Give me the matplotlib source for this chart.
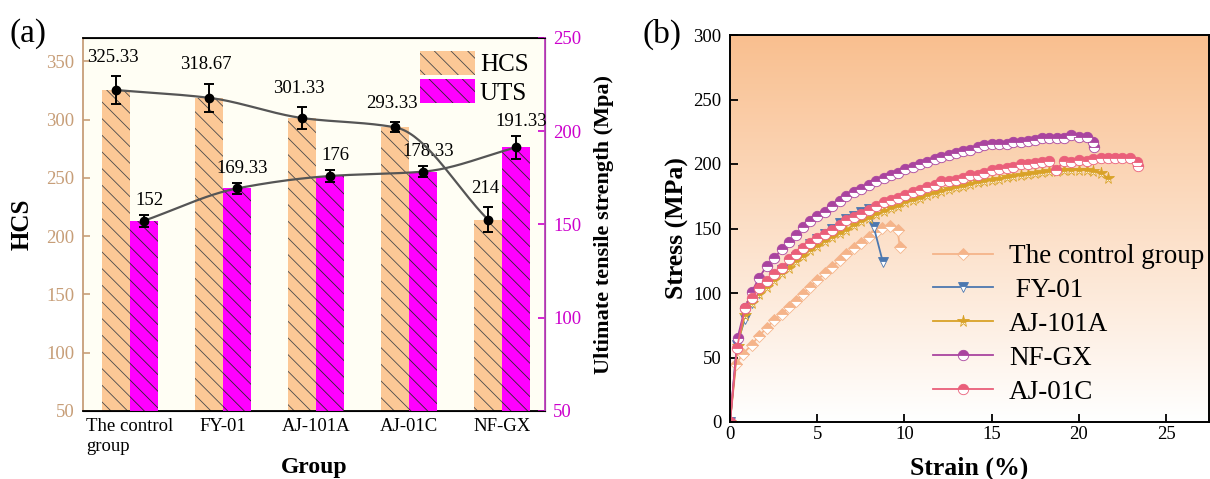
import numpy as np
import matplotlib
matplotlib.use('Agg')
import matplotlib.pyplot as plt
from matplotlib.colors import LinearSegmentedColormap

plt.rcParams['font.family'] = ['Liberation Serif', 'DejaVu Serif']
plt.rcParams['hatch.linewidth'] = 0.6

# ---- (a) HCS and UTS by group ----
groups = ['The control\ngroup', 'FY-01', 'AJ-101A', 'AJ-01C', 'NF-GX']
hcs = [325.33, 318.67, 301.33, 293.33, 214]
hcs_err = [11.8, 12.1, 9.3, 4.3, 10.7]
uts = [152, 169.33, 176, 178.33, 191.33]
uts_err = [3.1, 2.9, 3.1, 3.0, 6.2]

# ---- (b) stress-strain curves ----
ctrl_strain = [0, 0.35, 0.75, 1.25, 1.68, 2.1, 2.54, 2.97, 3.38, 3.78, 4.19, 4.6, 5.0, 5.44,
               5.85, 6.28, 6.67, 7.1, 7.53, 7.96, 8.39, 8.7, 9.16, 9.6, 9.73]
ctrl_stress = [0, 45, 53, 60, 67, 73, 79, 84, 89, 94, 99.5, 105, 110, 115.5,
               120.5, 125.5, 130, 134.5, 139, 143.5, 147, 150.5, 152, 149, 136]

fy_strain = [0, 0.4, 0.86, 1.25, 1.68, 2.1, 2.54, 2.97, 3.38, 3.78, 4.19, 4.6, 5.0, 5.44,
             5.85, 6.28, 6.67, 7.1, 7.53, 7.96, 8.24, 8.76]
fy_stress = [0, 60, 80, 92, 100, 107, 113, 118, 123, 128, 133, 138, 142, 146,
             150, 154, 157, 160, 163, 165, 151, 124]

aj101_strain = [0, 0.43, 0.86, 1.25, 1.68, 2.1, 2.54, 2.97, 3.38, 3.78, 4.19, 4.6, 5.0, 5.44,
                5.85, 6.28, 6.67, 7.1, 7.53, 7.96, 8.39, 8.82, 9.2, 9.63, 10.04, 10.47, 10.88,
                11.29, 11.72, 12.1, 12.54, 12.95, 13.33, 13.76, 14.19, 14.58, 15.0, 15.42,
                15.85, 16.24, 16.67, 17.1, 17.48, 17.9, 18.3, 18.75, 19.14, 19.57, 20.0,
                20.43, 20.82, 21.25, 21.66]
aj101_stress = [0, 59, 83, 92, 99, 105, 110, 115.5, 119.4, 124.6, 128.5, 133.6, 136.2, 140,
                143.4, 146.5, 149, 153, 155.5, 158, 161.2, 163.3, 165.8, 167.7, 170.2, 172.3, 174,
                176.2, 177.5, 179.3, 180.5, 181.8, 183, 184.4, 185.7, 186.5, 187.8, 188.5,
                189.8, 190.4, 191.6, 192.4, 193, 193.7, 194.2, 194.7, 195, 195.5, 195.5,
                195.5, 194.7, 193, 189]

nfgx_strain = [0, 0.43, 0.86, 1.25, 1.68, 2.1, 2.54, 2.97, 3.38, 3.78, 4.19, 4.6, 5.0, 5.44,
               5.85, 6.28, 6.67, 7.1, 7.53, 7.96, 8.39, 8.82, 9.2, 9.63, 10.04, 10.47, 10.88,
               11.29, 11.72, 12.1, 12.54, 12.95, 13.33, 13.76, 14.19, 14.58, 15.0, 15.42,
               15.85, 16.24, 16.67, 17.1, 17.48, 17.9, 18.3, 18.75, 19.14, 19.57, 20.0,
               20.43, 20.82, 20.85]
nfgx_stress = [0, 65, 88.5, 101, 112, 121, 127, 134, 139.5, 145, 151, 155.5, 159.4, 163,
               167.7, 171, 175, 178, 180.5, 184, 186.5, 189, 191.6, 193.4, 196, 198, 200,
               201.4, 203.8, 205.8, 206.9, 208.4, 209.7, 211, 213, 214.9, 215.4, 215.6,
               215.4, 217.4, 217.4, 217.7, 218.7, 220, 219.8, 219.8, 219.8, 222.6, 221.3,
               220.8, 217, 213.5]

aj01c_strain = [0, 0.4, 0.86, 1.25, 1.68, 2.1, 2.54, 2.97, 3.38, 3.78, 4.19, 4.6, 5.0, 5.44,
                5.85, 6.28, 6.67, 7.1, 7.53, 7.96, 8.39, 8.82, 9.2, 9.63, 10.04, 10.47, 10.88,
                11.29, 11.72, 12.1, 12.54, 12.95, 13.33, 13.76, 14.19, 14.58, 15.0, 15.42,
                15.85, 16.24, 16.67, 17.1, 17.48, 17.9, 18.3, 18.7, 19.14, 19.57, 20.0,
                20.43, 20.82, 21.25, 21.66, 22.04, 22.47, 22.9, 23.33, 23.4]
aj01c_stress = [0, 57, 88.5, 96, 104, 109.6, 115, 119.4, 126, 130.5, 135, 138.8, 142.6, 145.7,
                149, 153, 156.3, 158.6, 161.2, 164, 167.1, 170.2, 172.3, 173.6, 176.2, 178, 180,
                182, 184, 186.5, 186.5, 187.8, 189, 191.6, 191.6, 193.4, 195, 196,
                196.8, 198, 200, 200, 200.7, 201.4, 202.7, 195.5, 202, 201.4, 203.2,
                202.7, 203.8, 205, 205, 205, 205, 204.5, 201.4, 198.6]

curve_names = ['The control group', ' FY-01', 'AJ-101A', 'NF-GX', 'AJ-01C']
curve_colors = ['#F5B48A', '#4C78B0', '#D9A227', '#A9449F', '#EA5F7A']
curve_markers = ['D', 'v', '*', 'o', 'o']
curve_msize = [6.5, 7.5, 8.5, 7.5, 7.5]


def smooth_line(xs, ys, n=40):
    # monotone cubic (PCHIP) line through the group means
    xs = np.asarray(xs, float)
    ys = np.asarray(ys, float)
    h = np.diff(xs)
    d = np.diff(ys) / h
    m = np.zeros_like(ys)
    m[0], m[-1] = d[0], d[-1]
    for k in range(1, len(xs) - 1):
        if d[k - 1] * d[k] > 0:
            w1 = 2 * h[k] + h[k - 1]
            w2 = h[k] + 2 * h[k - 1]
            m[k] = (w1 + w2) / (w1 / d[k - 1] + w2 / d[k])
    out_x, out_y = [], []
    t = np.linspace(0, 1, n)
    for k in range(len(xs) - 1):
        h00 = 2 * t ** 3 - 3 * t ** 2 + 1
        h10 = t ** 3 - 2 * t ** 2 + t
        h01 = -2 * t ** 3 + 3 * t ** 2
        h11 = t ** 3 - t ** 2
        out_x.extend(xs[k] + t * h[k])
        out_y.extend(h00 * ys[k] + h10 * h[k] * m[k] + h01 * ys[k + 1] + h11 * h[k] * m[k + 1])
    return out_x, out_y


fig = plt.figure(figsize=(12.1, 4.79), dpi=100)

# ================= panel (a) =================
tan = '#C79E78'
mag = '#CC00CC'
x = np.arange(len(groups))
w = 0.3

ax = fig.add_axes([0.0686, 0.142, 0.3818, 0.7787])
ax.set_facecolor('#FFFEF4')
ax_u = ax.twinx()
ax_top = ax.twinx()

b1 = ax.bar(x - w / 2, hcs, w, color='#FCC896', edgecolor='#4a4a4a', linewidth=0,
            hatch='\\\\', label='HCS', zorder=2)
b2 = ax_u.bar(x + w / 2, uts, w, color='#FF00FF', edgecolor='#2a2a2a', linewidth=0,
              hatch='\\\\', label='UTS', zorder=2)

ax.set_xlim(-0.505, 4.46)
ax.set_ylim(50, 370)
ax_u.set_ylim(50, 250)
ax_top.set_ylim(50, 370)
ax_top.axis('off')

# UTS line and error bars
sx, sy = smooth_line(x + w / 2, uts)
ax_u.plot(sx, sy, color='#555555', lw=1.6, zorder=3)
ax_u.errorbar(x + w / 2, uts, yerr=uts_err, fmt='o', color='black', ms=6,
              capsize=3.5, elinewidth=1.4, capthick=1.4, zorder=4)
for xi, v, e in zip(x + w / 2, uts, uts_err):
    ax_u.annotate('{:g}'.format(v), xy=(xi, v + e), xytext=(4, 10.5), textcoords='offset points',
                  ha='center', va='center', fontsize=13.5)

# HCS line and error bars on top
hx, hy = smooth_line(x - w / 2, hcs)
ax_top.plot(hx, hy, color='#555555', lw=1.6, zorder=3)
ax_top.errorbar(x - w / 2, hcs, yerr=hcs_err, fmt='o', color='black', ms=6,
                capsize=3.5, elinewidth=1.4, capthick=1.4, zorder=4)
for xi, v, e in zip(x - w / 2, hcs, hcs_err):
    ax_top.annotate('{:g}'.format(v), xy=(xi, v + e), xytext=(-2.5, 13.5),
                    textcoords='offset points', ha='center', va='center', fontsize=13.5)

ax.set_yticks([50, 100, 150, 200, 250, 300, 350])
ax_u.set_yticks([50, 100, 150, 200, 250])
ax.set_xticks(x)
ax.set_xticklabels(groups, fontsize=13.5)
ax.get_xticklabels()[0].set_multialignment('left')
ax.tick_params(axis='x', direction='in', length=5, width=1.2, pad=5)
ax.tick_params(axis='y', direction='in', length=5, width=1.2, colors=tan, labelsize=13.5, pad=6)
ax_u.tick_params(axis='y', direction='in', length=5, width=1.2, colors=mag, labelsize=13.5, pad=6)
ax.spines['left'].set_color(tan)
ax.spines['left'].set_linewidth(1.3)
ax_u.spines['right'].set_color('#C040C0')
ax_u.spines['right'].set_linewidth(1.3)
ax_u.spines['left'].set_visible(False)
for s in ('top', 'bottom'):
    ax.spines[s].set_linewidth(1.3)
    ax.spines[s].set_color('black')

ax.set_ylabel('HCS', fontsize=18, fontweight='bold', labelpad=9)
ax_u.set_ylabel('Ultimate tensile strength (Mpa)', fontsize=16, fontweight='bold', labelpad=9)
ax.set_xlabel('Group', fontsize=17, fontweight='bold', labelpad=2)

ax_top.legend([b1, b2], ['HCS', 'UTS'], loc='upper left', bbox_to_anchor=(0.729, 0.965),
              frameon=False, fontsize=18, borderpad=0, borderaxespad=0,
              handlelength=2.2, handleheight=1.08, labelspacing=0.12, handletextpad=0.2)

fig.text(0.008, 1 - 34 / 479, '(a)', fontsize=24, ha='left', va='center')

# ================= panel (b) =================
bx = fig.add_axes([730 / 1210, 57 / 479, 479 / 1210, 387 / 479])
bx.set_xlim(0, 27.45)
bx.set_ylim(0, 300)

peach = LinearSegmentedColormap.from_list('peach', ['#FFFFFF', '#F9BF8F'])
bx.imshow(np.linspace(0, 1, 256).reshape(-1, 1), cmap=peach, origin='lower',
          extent=[0, 27.45, 0, 300], aspect='auto', zorder=0)

series = [(ctrl_strain, ctrl_stress), (fy_strain, fy_stress), (aj101_strain, aj101_stress),
          (nfgx_strain, nfgx_stress), (aj01c_strain, aj01c_stress)]
for (sx_, sy_), name, c, m, ms in zip(series, curve_names, curve_colors, curve_markers, curve_msize):
    bx.plot(sx_, sy_, color=c, lw=1.3, marker=m, ms=ms, fillstyle='top',
            markerfacecolor=c, markerfacecoloralt='white', markeredgecolor=c,
            markeredgewidth=0.6, label=name, zorder=2)

bx.set_xticks([0, 5, 10, 15, 20, 25])
bx.set_yticks([0, 50, 100, 150, 200, 250, 300])
bx.tick_params(direction='in', length=6, width=1.3, labelsize=13.5)
bx.tick_params(axis='y', pad=6)
bx.tick_params(axis='x', pad=3)
for s in bx.spines.values():
    s.set_linewidth(1.4)
bx.set_xlabel('Strain (%)', fontsize=18.5, fontweight='bold', labelpad=10)
bx.set_ylabel('Stress (MPa)', fontsize=18.5, fontweight='bold', labelpad=3)

bx.legend(loc='upper left', bbox_to_anchor=(0.424, 0.46), frameon=False, fontsize=19.5,
          borderpad=0, borderaxespad=0, handlelength=2.2, handletextpad=0.6,
          labelspacing=0.33, numpoints=1)

fig.text(642 / 1210, 1 - 34 / 479, '(b)', fontsize=24, ha='left', va='center')

fig.savefig('out.png', dpi=100)
